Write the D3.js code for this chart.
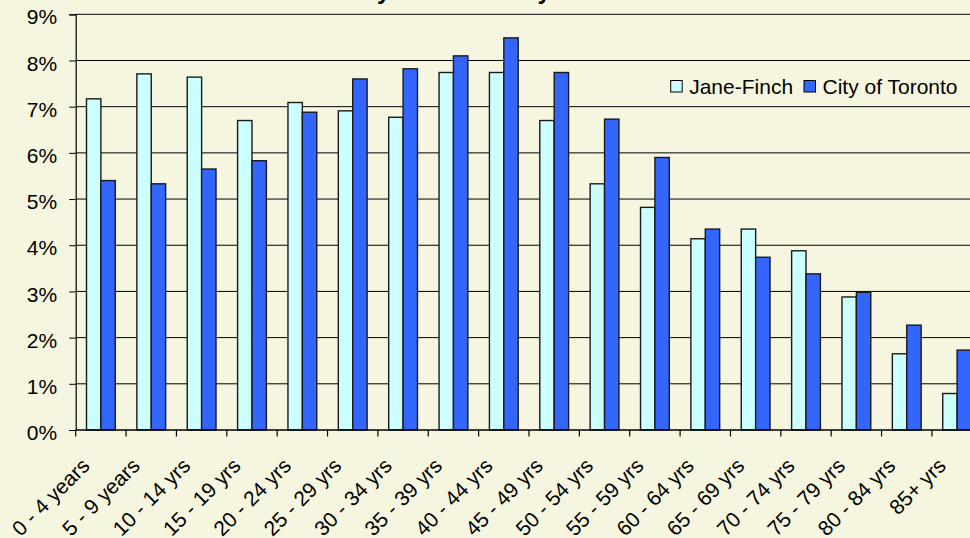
<!DOCTYPE html>
<html>
<head>
<meta charset="utf-8">
<script src="https://cdn.jsdelivr.net/npm/d3@7"></script>
<style>
  html, body { margin: 0; padding: 0; background: #F6F6E0; }
  svg { display: block; }
  text { font-family: "Liberation Sans", Arial, sans-serif; fill: #000; }
</style>
</head>
<body>
<svg id="chart" width="970" height="538"></svg>
<script>
const categories = ["0 - 4 years","5 - 9 years","10 - 14 yrs","15 - 19 yrs","20 - 24 yrs","25 - 29 yrs","30 - 34 yrs","35 - 39 yrs","40 - 44 yrs","45 - 49 yrs","50 - 54 yrs","55 - 59 yrs","60 - 64 yrs","65 - 69 yrs","70 - 74 yrs","75 - 79 yrs","80 - 84 yrs","85+ yrs"];
const seriesNames = ["Jane-Finch","City of Toronto"];
const janeFinch = [7.17,7.71,7.64,6.70,7.09,6.91,6.77,7.74,7.74,6.70,5.33,4.82,4.14,4.35,3.88,2.88,1.65,0.79];
const toronto   = [5.40,5.33,5.65,5.83,6.88,7.60,7.82,8.10,8.49,7.74,6.73,5.90,4.35,3.74,3.38,2.98,2.27,1.73];
const yTicks = [0,1,2,3,4,5,6,7,8,9];
const titleText = "Jane-Finch Study Area and City of Toronto";
const colors = ["#CCFFFF","#3366FF"];

const svg = d3.select("#chart");
const plotLeft = 75.7, plotRight = 982.3, plotTop = 14.3, plotBottom = 430;

const x0 = d3.scaleBand().domain(categories).range([plotLeft, plotRight]).padding(0);
const x1 = d3.scaleBand().domain(seriesNames).range([0, x0.bandwidth()]).paddingInner(0).paddingOuter(0.75);
const y = d3.scaleLinear().domain([0, 9]).range([plotBottom, plotTop]);

// title (mostly above the visible area, only descenders show)
svg.append("text")
  .attr("x", 433).attr("y", -1)
  .attr("text-anchor", "middle")
  .style("font-size", "24px").style("font-weight", "bold")
  .text(titleText);

// gridlines
svg.append("g").selectAll("line").data(yTicks.filter(d => d > 0)).join("line")
  .attr("x1", plotLeft).attr("x2", plotRight)
  .attr("y1", d => y(d)).attr("y2", d => y(d))
  .attr("stroke", "#000").attr("stroke-width", 1);

// bars
const data = categories.map((c, i) => ({cat: c, vals: [janeFinch[i], toronto[i]]}));
const groups = svg.append("g").selectAll("g").data(data).join("g")
  .attr("transform", d => `translate(${x0(d.cat)},0)`);
groups.selectAll("rect").data(d => d.vals.map((v, j) => ({s: seriesNames[j], v, j}))).join("rect")
  .attr("x", d => x1(d.s))
  .attr("width", x1.bandwidth())
  .attr("y", d => y(d.v))
  .attr("height", d => y(0) - y(d.v))
  .attr("fill", d => colors[d.j])
  .attr("stroke", "#1a1a1a").attr("stroke-width", 1.4);

// y axis
const yAxis = d3.axisLeft(y).tickValues(yTicks).tickFormat(d => d + "%").tickSize(6.5).tickPadding(12);
const gy = svg.append("g").attr("transform", `translate(${plotLeft},0)`).call(yAxis);
gy.select(".domain").attr("stroke", "#000").attr("stroke-width", 1.2);
gy.selectAll(".tick line").attr("stroke", "#000");
gy.selectAll(".tick text").style("font-size", "21px").attr("dy", "0.46em").style("font-family", "'Liberation Sans', Arial, sans-serif");

// x axis line and ticks at category boundaries
svg.append("line").attr("x1", plotLeft).attr("x2", plotRight).attr("y1", plotBottom).attr("y2", plotBottom)
  .attr("stroke", "#000").attr("stroke-width", 1.3);
svg.append("g").selectAll("line").data(categories).join("line")
  .attr("x1", d => x0(d)).attr("x2", d => x0(d))
  .attr("y1", plotBottom).attr("y2", plotBottom + 6.5)
  .attr("stroke", "#000").attr("stroke-width", 1.2);

// x labels
svg.append("g").selectAll("text").data(categories).join("text")
  .attr("transform", d => `translate(${x0(d) + x0.bandwidth() / 2 - 10},${plotBottom + 37}) rotate(-45)`)
  .attr("text-anchor", "end")
  .style("font-size", "21px")
  .text(d => d);

// legend
const legend = svg.append("g");
const legendX = [670.7, 804];
seriesNames.forEach((s, i) => {
  legend.append("rect").attr("x", legendX[i]).attr("y", 80.5).attr("width", 11.5).attr("height", 11.5)
    .attr("fill", colors[i]).attr("stroke", "#000").attr("stroke-width", 1);
  legend.append("text").attr("x", legendX[i] + 18.5).attr("y", 93.5)
    .style("font-size", "21px").text(s);
});
</script>
</body>
</html>
